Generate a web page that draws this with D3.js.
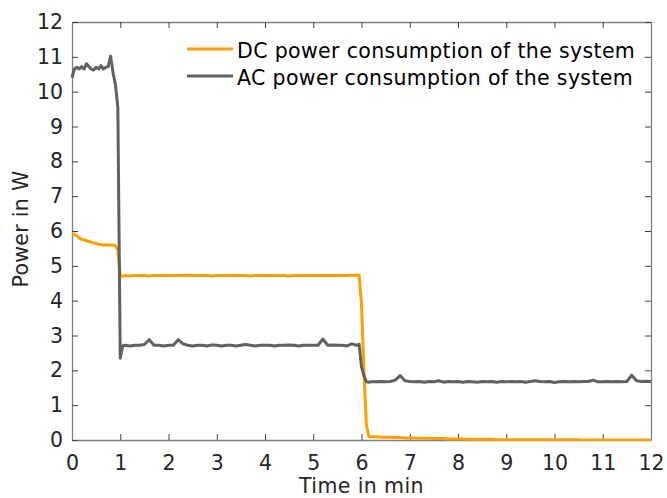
<!DOCTYPE html>
<html>
<head>
<meta charset="utf-8">
<script src="https://cdn.jsdelivr.net/npm/d3@7"></script>
<style>
  html, body { margin: 0; padding: 0; background: #ffffff; }
  svg { display: block; font-family: "DejaVu Sans", Verdana, sans-serif; }
</style>
</head>
<body>
<svg id="chart" width="667" height="498"></svg>
<script>
// ---- data ----
const timeMin = [
  0, 0.05, 0.1, 0.15, 0.2, 0.25, 0.3, 0.35, 0.4, 0.45, 0.5, 0.55, 0.6, 0.65, 0.7, 0.75, 0.8, 0.85, 0.9, 0.95, 1.0, 1.05,
  1.1, 1.2, 1.3, 1.4, 1.5, 1.6, 1.7, 1.8, 1.9, 2.0,
  2.1, 2.2, 2.3, 2.4, 2.5, 2.6, 2.7, 2.8, 2.9, 3.0,
  3.1, 3.2, 3.3, 3.4, 3.5, 3.6, 3.7, 3.8, 3.9, 4.0,
  4.1, 4.2, 4.3, 4.4, 4.5, 4.6, 4.7, 4.8, 4.9, 5.0,
  5.1, 5.2, 5.3, 5.4, 5.5, 5.6, 5.7, 5.8, 5.9,
  5.95, 6.0, 6.05, 6.1, 6.15,
  6.2, 6.3, 6.4, 6.5, 6.6, 6.7, 6.8, 6.9, 7.0,
  7.1, 7.2, 7.3, 7.4, 7.5, 7.6, 7.7, 7.8, 7.9, 8.0,
  8.1, 8.2, 8.3, 8.4, 8.5, 8.6, 8.7, 8.8, 8.9, 9.0,
  9.1, 9.2, 9.3, 9.4, 9.5, 9.6, 9.7, 9.8, 9.9, 10.0,
  10.1, 10.2, 10.3, 10.4, 10.5, 10.6, 10.7, 10.8, 10.9, 11.0,
  11.1, 11.2, 11.3, 11.4, 11.5, 11.6, 11.7, 11.8, 11.9, 12.0
];

const dcPower = [
  5.93, 5.90, 5.86, 5.80, 5.76, 5.74, 5.72, 5.70, 5.68, 5.66, 5.64, 5.62, 5.61, 5.60, 5.60, 5.60, 5.60, 5.60, 5.58, 5.45, 4.72, 4.70,
  4.72, 4.71, 4.72, 4.72, 4.72, 4.71, 4.72, 4.72, 4.72, 4.72,
  4.72, 4.72, 4.72, 4.73, 4.72, 4.72, 4.72, 4.72, 4.71, 4.72,
  4.72, 4.72, 4.72, 4.72, 4.72, 4.72, 4.71, 4.72, 4.72, 4.72,
  4.72, 4.72, 4.72, 4.72, 4.71, 4.72, 4.72, 4.72, 4.72, 4.72,
  4.72, 4.72, 4.72, 4.72, 4.72, 4.72, 4.72, 4.73, 4.73,
  4.73, 3.90, 2.00, 0.45, 0.10,
  0.09, 0.09, 0.08, 0.08, 0.08, 0.07, 0.07, 0.06, 0.06,
  0.06, 0.05, 0.05, 0.05, 0.04, 0.04, 0.04, 0.03, 0.03, 0.03,
  0.03, 0.02, 0.02, 0.02, 0.02, 0.02, 0.02, 0.01, 0.01, 0.01,
  0.01, 0.01, 0.01, 0.01, 0.01, 0.01, 0.01, 0.01, 0.01, 0.01,
  0.01, 0.01, 0.01, 0.01, 0.01, 0.00, 0.00, 0.00, 0.00, 0.00,
  0.00, 0.00, 0.00, 0.00, 0.00, 0.00, 0.00, 0.00, 0.00, 0.00
];

const acPower = [
  10.40, 10.65, 10.70, 10.65, 10.72, 10.65, 10.80, 10.72, 10.65, 10.62, 10.70, 10.65, 10.75, 10.65, 10.70, 10.72, 11.02, 10.55, 10.20, 9.55, 2.35, 2.70,
  2.72, 2.70, 2.72, 2.72, 2.74, 2.88, 2.72, 2.72, 2.70, 2.72,
  2.72, 2.88, 2.76, 2.72, 2.70, 2.72, 2.72, 2.70, 2.73, 2.72,
  2.70, 2.72, 2.72, 2.70, 2.72, 2.74, 2.72, 2.70, 2.72, 2.72,
  2.72, 2.70, 2.72, 2.72, 2.73, 2.72, 2.70, 2.72, 2.72, 2.72,
  2.72, 2.90, 2.72, 2.73, 2.72, 2.72, 2.70, 2.76, 2.72,
  2.75, 2.10, 1.85, 1.67, 1.66,
  1.67, 1.67, 1.68, 1.67, 1.68, 1.72, 1.85, 1.70, 1.68,
  1.67, 1.68, 1.66, 1.68, 1.67, 1.70, 1.66, 1.68, 1.67, 1.68,
  1.66, 1.68, 1.67, 1.66, 1.68, 1.67, 1.68, 1.66, 1.68, 1.67,
  1.68, 1.67, 1.68, 1.66, 1.68, 1.70, 1.68, 1.67, 1.68, 1.65,
  1.67, 1.68, 1.67, 1.68, 1.67, 1.68, 1.68, 1.72, 1.67, 1.67,
  1.68, 1.67, 1.68, 1.67, 1.68, 1.86, 1.70, 1.68, 1.69, 1.68
];

const xTicks = [0, 1, 2, 3, 4, 5, 6, 7, 8, 9, 10, 11, 12];
const yTicks = [0, 1, 2, 3, 4, 5, 6, 7, 8, 9, 10, 11, 12];
const seriesNames = ["DC power consumption of the system", "AC power consumption of the system"];
const seriesColors = ["#ffa000", "#616161"];
const xLabel = "Time in min";
const yLabel = "Power in W";

// ---- layout ----
const L = 72, R = 651, T = 22, B = 440;
const fontSize = 20.5;
const svg = d3.select("#chart");

const x = d3.scaleLinear().domain([0, 12]).range([L, R]);
const y = d3.scaleLinear().domain([0, 12]).range([B, T]);

const axisColor = "#808080";
const textColor = "#262626";
const tickLen = 6;

// axes (bottom/left with labels, top/right ticks only), ticks inward
const gB = svg.append("g").attr("transform", `translate(0,${B})`)
  .call(d3.axisBottom(x).tickValues(xTicks).tickSizeInner(-tickLen).tickSizeOuter(0).tickPadding(tickLen + 9).tickFormat(d3.format("d")));
const gT = svg.append("g").attr("transform", `translate(0,${T})`)
  .call(d3.axisTop(x).tickValues(xTicks).tickSizeInner(-tickLen).tickSizeOuter(0).tickFormat(""));
const gL = svg.append("g").attr("transform", `translate(${L},0)`)
  .call(d3.axisLeft(y).tickValues(yTicks).tickSizeInner(-tickLen).tickSizeOuter(0).tickPadding(tickLen + 3).tickFormat(d3.format("d")));
const gR = svg.append("g").attr("transform", `translate(${R},0)`)
  .call(d3.axisRight(y).tickValues(yTicks).tickSizeInner(-tickLen).tickSizeOuter(0).tickFormat(""));

[gB, gT, gL, gR].forEach(g => {
  g.select(".domain").attr("stroke", axisColor).attr("stroke-width", 1.3);
  g.selectAll(".tick line").attr("stroke", "#404040").attr("stroke-width", 1);
  g.selectAll(".tick text").attr("fill", textColor).style("font-size", fontSize + "px")
    .style("font-family", '"DejaVu Sans", Verdana, sans-serif');
});

// lines
const line = d3.line().x((d, i) => x(timeMin[i])).y(d => y(d));
const clip = svg.append("clipPath").attr("id", "clip").append("rect")
  .attr("x", L - 2).attr("y", T - 2).attr("width", R - L + 4).attr("height", B - T + 3);

const plot = svg.append("g").attr("clip-path", "url(#clip)");
plot.append("path").datum(dcPower).attr("d", line)
  .attr("fill", "none").attr("stroke", seriesColors[0]).attr("stroke-width", 3)
  .attr("stroke-linejoin", "round");
plot.append("path").datum(acPower).attr("d", line)
  .attr("fill", "none").attr("stroke", seriesColors[1]).attr("stroke-width", 3)
  .attr("stroke-linejoin", "round");

// legend
const legend = svg.append("g");
const legY = [49, 76];
seriesNames.forEach((name, i) => {
  legend.append("line").attr("x1", 187).attr("x2", 233).attr("y1", legY[i]).attr("y2", legY[i])
    .attr("stroke", seriesColors[i]).attr("stroke-width", 3);
  legend.append("text").attr("x", 237).attr("y", legY[i] + 9).text(name)
    .attr("fill", "#000").style("font-size", fontSize + "px").style("letter-spacing", "0.35px");
});

// axis titles
svg.append("text").attr("x", (L + R) / 2).attr("y", 493).attr("text-anchor", "middle")
  .attr("fill", textColor).style("font-size", fontSize + "px").style("letter-spacing", "0.4px").text(xLabel);
svg.append("text").attr("transform", `translate(28,229) rotate(-90)`).attr("text-anchor", "middle")
  .attr("fill", textColor).style("font-size", fontSize + "px").style("letter-spacing", "0.3px").text(yLabel);
</script>
</body>
</html>
